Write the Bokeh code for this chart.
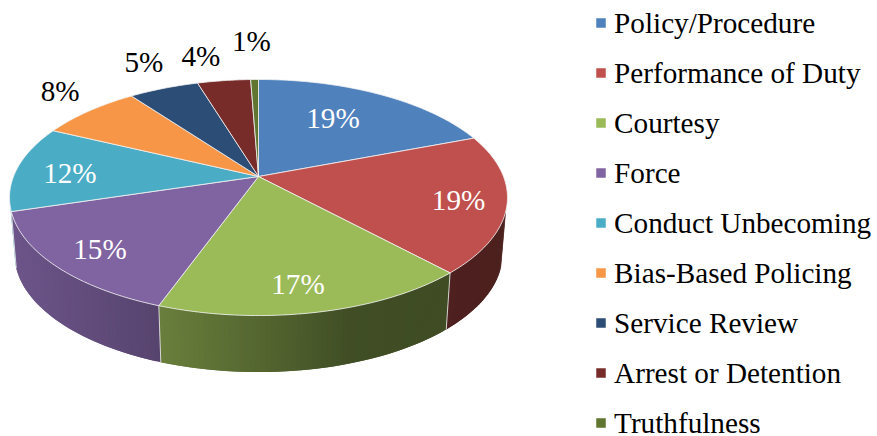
import numpy as np
from bokeh.core.properties import value
from bokeh.embed import file_html
from bokeh.models import Range1d
from bokeh.plotting import figure
from bokeh.resources import INLINE

categories = ["Policy/Procedure", "Performance of Duty", "Courtesy", "Force", "Conduct Unbecoming",
              "Bias-Based Policing", "Service Review", "Arrest or Detention", "Truthfulness"]
shares = [19.2, 18.9, 17.4, 14.8, 11.8, 7.8, 5.4, 4.1, 0.6]
percent_labels = ["19%", "19%", "17%", "15%", "12%", "8%", "5%", "4%", "1%"]
colors = ["#4f81bd", "#c0504d", "#9bbb59", "#8064a2", "#4bacc6", "#f79646", "#2c4d75", "#772c2a", "#5f7530"]

# label placement: radius fraction along the slice's mid angle, then a pixel nudge
label_r = [0.59, 0.815, 0.83, 0.80, 0.78, 1.20, 1.25, 1.25, 1.35]
label_dx = [-1, -1, -8, -1, 0, 1, 0, -16, -2]
label_dy = [-7, 2, -1, 3, 3, -9, -8, -5, -11]
label_color = ["white"] * 5 + ["black"] * 4

FONT = value("Liberation Serif")
CX, CY, R, RY, K = 258.0, 176.0, 245.0, 114.3, 0.178
DEPTH, SHRINK = 56.5, 0.98


def project(phi, r=1.0):
    """Top-down angle (clockwise from 12 o'clock, radians) to the tilted pie's pixels."""
    u, v = r * np.sin(phi), r * np.cos(phi)
    d = 1 + K * v
    return CX + R * u / d, CY - RY * v / d


def wall(x, y):
    return CX + (x - CX) * SHRINK, y + DEPTH


def shade(hex_color, f):
    rgb = [int(hex_color[i:i + 2], 16) for i in (1, 3, 5)]
    return "#%02x%02x%02x" % tuple(int(c * f) for c in rgb)


total = sum(shares)
edges = np.concatenate([[0], np.cumsum(shares)]) / total * 2 * np.pi

p = figure(width=877, height=436, x_range=Range1d(0, 877), y_range=Range1d(436, 0),
           x_axis_type=None, y_axis_type=None, toolbar_location=None, output_backend="svg",
           min_border=0, outline_line_color=None, background_fill_color="white")
p.grid.visible = False

# side wall, as thin shaded strips; each overlaps the next so no seams show
sx, sy, sc = [], [], []
for i, col in enumerate(colors):
    n = max(2, int(np.degrees(edges[i + 1] - edges[i])))
    a = np.linspace(edges[i], edges[i + 1], n + 1)
    step = a[1] - a[0]
    for a0, a1 in zip(a[:-1], a[1:]):
        if np.cos((a0 + a1) / 2) > -0.28:
            continue
        x0, y0 = project(a0)
        x1, y1 = project(min(a1 + step, edges[i + 1]))
        xm = project((a0 + a1) / 2)[0]
        bx0, by0 = wall(x0, y0)
        bx1, by1 = wall(x1, y1)
        f = float(np.interp(xm, [12, 160, 258, 350, 505], [0.85, 0.68, 0.55, 0.42, 0.40]))
        sx.append([x0, x1, bx1, bx0])
        sy.append([y0, y1, by1, by0])
        sc.append(shade(col, f))
p.patches(sx, sy, fill_color=sc, line_color=None)

# wall separators
for e in edges[1:-1]:
    if np.cos(e) < -0.28:
        x0, y0 = project(e)
        bx, by = wall(x0, y0)
        p.line([x0, bx], [y0, by], line_color="#e8e8e8", line_width=1, line_alpha=0.85)

# top face
for i, col in enumerate(colors):
    a = np.linspace(edges[i], edges[i + 1], max(3, int(np.degrees(edges[i + 1] - edges[i])) + 1))
    x, y = project(a)
    p.patch(np.r_[CX, x], np.r_[CY, y], fill_color=col, line_color="#f2f2f2", line_width=1, line_alpha=0.8)

# data labels
lx, ly = [], []
for i in range(len(shares)):
    mid = (edges[i] + edges[i + 1]) / 2
    x, y = project(mid, label_r[i])
    lx.append(float(x) + label_dx[i])
    ly.append(float(y) + label_dy[i])
p.text(lx, ly, text=percent_labels, text_color=label_color, text_font=FONT, text_font_size="29.2px",
       text_align="center", text_baseline="middle")

# legend
rows = 22.5 + 50.0 * np.arange(len(categories), dtype=float)
p.scatter(np.full(len(rows), 600.5), rows, marker="square", size=9.5,
          fill_color=colors, line_color=None)
p.text(np.full(len(rows), 613.6), rows, text=categories, text_color="black", text_font=FONT,
       text_font_size="29.2px", text_align="left", text_baseline="middle")

open("out.html", "w").write(file_html(p, INLINE))
